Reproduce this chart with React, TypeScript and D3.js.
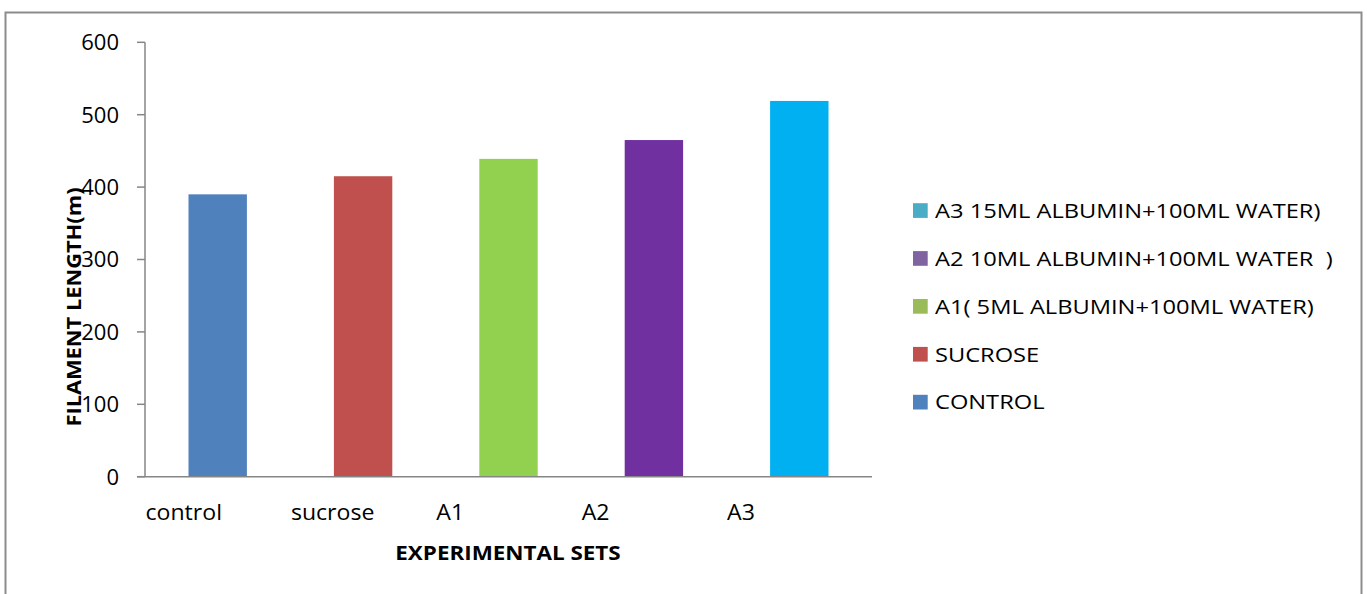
import React from "react";
import * as d3 from "d3";

const categories = ["control", "sucrose", "A1", "A2", "A3"];
const values = [390, 415, 439, 465, 519];
const barColors = ["#4F81BD", "#C0504D", "#92D050", "#7030A0", "#00B0F0"];
const yTicks = [0, 100, 200, 300, 400, 500, 600];
const legendLabels = [
  "A3 15ML ALBUMIN+100ML WATER)",
  "A2 10ML ALBUMIN+100ML WATER  )",
  "A1( 5ML ALBUMIN+100ML WATER)",
  "SUCROSE",
  "CONTROL",
];
const legendColors = ["#4BACC6", "#8064A2", "#9BBB59", "#C0504D", "#4F81BD"];

const W = 1367;
const H = 594;
const plotLeft = 145;
const plotRight = 872;
const plotTop = 42.3;
const plotBottom = 476.7;
const font = "'Open Sans', Lato, sans-serif";
const axisColor = "#868686";

export default function App() {
  const xb = d3.scaleBand<string>().domain(categories).range([plotLeft, plotRight]);
  const y = d3.scaleLinear().domain([0, 600]).range([plotBottom, plotTop]);
  return (
    <svg width={W} height={H} style={{ position: "absolute", left: 0, top: 0, display: "block" }}>
      <rect x={0} y={0} width={W} height={H} fill="#fff" />
      <rect x={5.5} y={12.5} width={1356} height={H + 20} fill="none" stroke="#8c8c8c" strokeWidth={2} />
      {categories.map((c, i) => {
        const cx = (xb(c) as number) + xb.bandwidth() / 2;
        const bw = 58.4;
        return (
          <rect key={c} x={cx - bw / 2} y={y(values[i])} width={bw} height={plotBottom - y(values[i])} fill={barColors[i]} />
        );
      })}
      <line x1={plotLeft} x2={plotLeft} y1={plotTop} y2={plotBottom} stroke={axisColor} strokeWidth={1.5} />
      <line x1={137} x2={plotRight} y1={plotBottom} y2={plotBottom} stroke={axisColor} strokeWidth={1.5} />
      {yTicks.map((t) => (
        <g key={t}>
          <line x1={137} x2={plotLeft} y1={y(t)} y2={y(t)} stroke={axisColor} strokeWidth={1.5} />
          <text x={119} y={y(t)} dy="0.36em" textAnchor="end" fontFamily={font} fontSize={22} fill="#000">{t}</text>
        </g>
      ))}
      {categories.map((c) => (
        <text key={c} transform={`translate(${(xb(c) as number) + 0.5},520) scale(1.1,1)`} fontFamily={font} fontSize={21} fill="#000">{c}</text>
      ))}
      <text transform="translate(508,560) scale(1.15,1)" textAnchor="middle" fontFamily={font} fontSize={19.5} fontWeight="bold" fill="#000">EXPERIMENTAL SETS</text>
      <text transform="translate(81,307) rotate(-90) scale(1.12,1)" textAnchor="middle" fontFamily={font} fontSize={19.5} fontWeight="bold" fill="#000">FILAMENT LENGTH(m)</text>
      {legendLabels.map((l, i) => {
        const cy = 210.5 + i * 47.9;
        return (
          <g key={l}>
            <rect x={913} y={cy - 7.3} width={14.7} height={14.7} fill={legendColors[i]} />
            <text transform={`translate(935,${cy}) scale(1.155,1)`} dy="0.36em" fontFamily={font} fontSize={20.5} fill="#000" style={{ whiteSpace: "pre" }}>{l}</text>
          </g>
        );
      })}
    </svg>
  );
}
